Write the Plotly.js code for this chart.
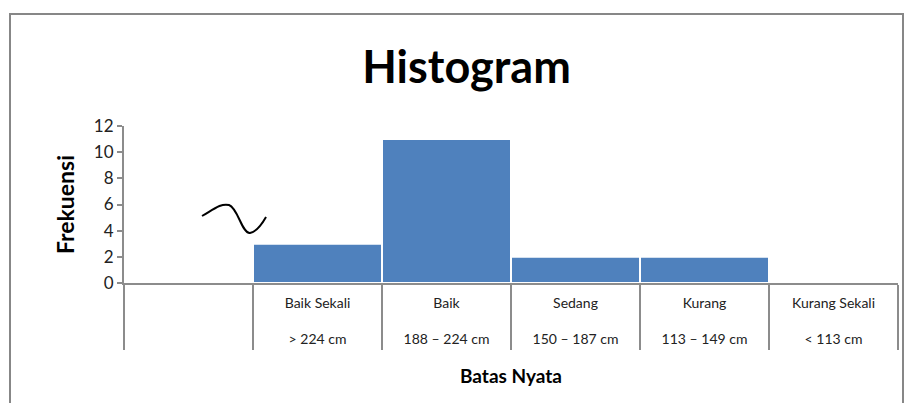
<!DOCTYPE html>
<html>
<head>
<meta charset="utf-8">
<script src="https://cdn.plot.ly/plotly-3.0.1.min.js"></script>
<style>html,body{margin:0;padding:0;background:#fff;}#chart{width:913px;height:403px;}</style>
</head>
<body>
<div id="chart"></div>
<script>
// Data
var categories = [" ", "Baik Sekali", "Baik", "Sedang", "Kurang", "Kurang Sekali"];
var ranges = ["", "> 224 cm", "188 – 224 cm", "150 – 187 cm", "113 – 149 cm", "< 113 cm"];
var frekuensi = [null, 3, 11, 2, 2, 0];
var yTicks = [0, 2, 4, 6, 8, 10, 12];

var tickText = categories.map(function (c, i) {
  return c.trim() === "" ? "" : c + "<br><br>" + ranges[i];
});

var trace = {
  type: "bar",
  x: categories,
  y: frekuensi,
  marker: { color: "#4F81BD", line: { color: "#ffffff", width: 2 } },
  hoverinfo: "skip"
};

// helpers for decoration in pixel -> paper coords
var L = 124, R = 898, T = 126, B = 283;
function px(x) { return (x - L) / (R - L); }
function py(y) { return (B - y) / (B - T); }
function P(x, y) { return px(x).toFixed(4) + "," + py(y).toFixed(4); }

var squiggle = "M " + P(202, 216) +
  " C " + P(214, 209) + " " + P(221, 203) + " " + P(229, 205) +
  " C " + P(238, 208) + " " + P(242, 234) + " " + P(250, 233) +
  " C " + P(256, 232) + " " + P(262, 224) + " " + P(266, 217);

var layout = {
  width: 913, height: 403,
  margin: { l: L, r: 913 - R, t: T, b: 403 - B, pad: 0 },
  paper_bgcolor: "#ffffff", plot_bgcolor: "#ffffff",
  font: { family: "Lato, 'Open Sans', sans-serif", color: "#222" },
  showlegend: false,
  bargap: 0,
  title: {
    text: "<b>Histogram</b>",
    font: { size: 45, color: "#000", family: "Lato, sans-serif" },
    x: 0.511, xanchor: "center", xref: "container",
    y: 1 - 67 / 403, yanchor: "middle", yref: "container"
  },
  xaxis: {
    type: "category",
    tickmode: "array", tickvals: categories, ticktext: tickText,
    tickson: "boundaries",
    ticks: "outside", ticklen: 65, tickwidth: 2, tickcolor: "#8c8c8c",
    ticklabelstandoff: 6,
    tickfont: { size: 14, color: "#222" },
    showline: true, linecolor: "#8c8c8c", linewidth: 2,
    showgrid: false, zeroline: false, fixedrange: true,
    showticklabels: true,
    automargin: false
  },
  yaxis: {
    range: [0, 12], tickmode: "array", tickvals: yTicks,
    ticks: "outside", ticklen: 5, tickwidth: 2, tickcolor: "#8c8c8c",
    tickfont: { size: 17, color: "#222" },
    showline: true, linecolor: "#8c8c8c", linewidth: 2,
    showgrid: false, zeroline: false, fixedrange: true,
    title: { text: "<b>Frekuensi</b>", font: { size: 23, color: "#000" }, standoff: 13 },
    automargin: false
  },
  annotations: [
    { text: "<b>Batas Nyata</b>", xref: "paper", yref: "paper",
      x: 0.5, y: py(375), xanchor: "center", yanchor: "middle",
      showarrow: false, font: { size: 19, color: "#000" } }
  ],
  shapes: [
    { type: "rect", xref: "paper", yref: "paper",
      x0: px(10), x1: px(903), y0: py(420), y1: py(14),
      line: { color: "#878787", width: 2 }, fillcolor: "rgba(0,0,0,0)", layer: "below" },
    { type: "path", xref: "paper", yref: "paper", path: squiggle,
      line: { color: "#000", width: 2 } }
  ]
};

Plotly.newPlot("chart", [trace], layout, { displayModeBar: false, staticPlot: true });
</script>
</body>
</html>
